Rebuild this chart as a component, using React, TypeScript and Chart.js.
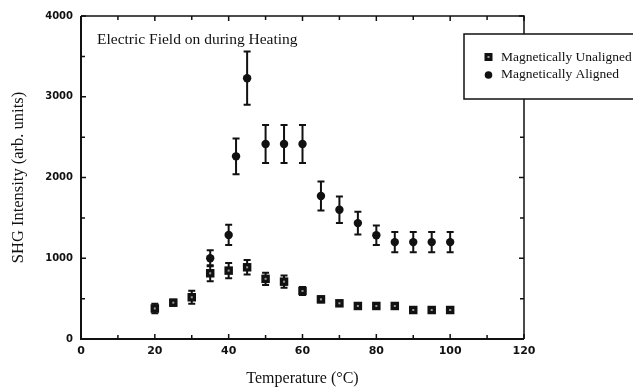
import { useEffect, useRef } from "react";
import { Chart, registerables } from "chart.js";
Chart.register(...registerables);

const unalignedTemps = [20, 25, 30, 35, 40, 45, 50, 55, 60, 65, 70, 75, 80, 85, 90, 95, 100];
const unalignedValues = [378, 450, 517, 814, 847, 888, 745, 710, 595, 491, 442, 409, 409, 409, 359, 359, 359];
const unalignedErrors = [60, 35, 80, 100, 95, 90, 75, 75, 50, 35, 25, 20, 20, 20, 15, 15, 25];
const alignedTemps = [35, 40, 42, 45, 50, 55, 60, 65, 70, 75, 80, 85, 90, 95, 100];
const alignedValues = [1000, 1289, 2262, 3230, 2416, 2416, 2416, 1770, 1600, 1435, 1285, 1200, 1200, 1200, 1200];
const alignedErrors = [100, 125, 222, 330, 235, 235, 235, 180, 165, 140, 120, 125, 125, 125, 125];

const seriesLabels = ["Magnetically Unaligned", "Magnetically Aligned"];
const annotationText = "Electric Field on during Heating";
const xTitle = "Temperature (\u00B0C)";
const yTitle = "SHG Intensity (arb. units)";
const xMin = 0, xMax = 120, xStep = 20, xMinorStep = 10;
const yMin = 0, yMax = 4000, yStep = 1000, yMinorStep = 500;

const errorSets = [unalignedErrors, alignedErrors];

const customPlugin = {
  id: "custom",
  beforeDatasetsDraw(chart: any) {
    const ctx = chart.ctx;
    const ys = chart.scales.y;
    ctx.save();
    ctx.strokeStyle = "#111";
    ctx.lineWidth = 2;
    chart.data.datasets.forEach((ds: any, di: number) => {
      const meta = chart.getDatasetMeta(di);
      meta.data.forEach((pt: any, i: number) => {
        const v = ds.data[i].y;
        const e = errorSets[di][i];
        const x = pt.x;
        const yt = ys.getPixelForValue(v + e);
        const yb = ys.getPixelForValue(v - e);
        ctx.beginPath();
        ctx.moveTo(x, yt);
        ctx.lineTo(x, yb);
        ctx.moveTo(x - 3.5, yt);
        ctx.lineTo(x + 3.5, yt);
        ctx.moveTo(x - 3.5, yb);
        ctx.lineTo(x + 3.5, yb);
        ctx.stroke();
      });
    });
    ctx.restore();
  },
  afterDatasetsDraw(chart: any) {
    const ctx = chart.ctx;
    const meta = chart.getDatasetMeta(0);
    ctx.save();
    ctx.fillStyle = "#999";
    meta.data.forEach((pt: any) => {
      ctx.fillRect(pt.x - 1, pt.y - 1, 2, 2);
    });
    ctx.restore();
  },
  afterDraw(chart: any) {
    const ctx = chart.ctx;
    const { left, right, top, bottom } = chart.chartArea;
    const xs = chart.scales.x;
    const ys = chart.scales.y;
    ctx.save();
    ctx.strokeStyle = "#111";
    ctx.lineWidth = 2;
    ctx.beginPath();
    ctx.moveTo(left, top);
    ctx.lineTo(left, bottom);
    ctx.lineTo(right, bottom);
    ctx.stroke();
    ctx.lineWidth = 1.5;
    ctx.beginPath();
    ctx.moveTo(left, top);
    ctx.lineTo(right, top);
    ctx.lineTo(right, bottom);
    ctx.stroke();
    ctx.lineWidth = 1.5;
    ctx.beginPath();
    for (let v = xMin; v <= xMax; v += xMinorStep) {
      const px = xs.getPixelForValue(v);
      const len = v % xStep === 0 ? 5 : 4;
      ctx.moveTo(px, bottom);
      ctx.lineTo(px, bottom - len);
      ctx.moveTo(px, top);
      ctx.lineTo(px, top + len);
    }
    for (let v = yMin; v <= yMax; v += yMinorStep) {
      const py = ys.getPixelForValue(v);
      const len = v % yStep === 0 ? 5 : 4;
      ctx.moveTo(left, py);
      ctx.lineTo(left + len, py);
      ctx.moveTo(right, py);
      ctx.lineTo(right - len, py);
    }
    ctx.stroke();
    ctx.fillStyle = "#111";
    ctx.font = "15.5px 'Liberation Serif'";
    ctx.textBaseline = "middle";
    ctx.textAlign = "left";
    ctx.fillText(annotationText, left + 16, top + 24);
    const bx = 464, by = 34, bw = 180, bh = 65;
    ctx.fillStyle = "#fff";
    ctx.fillRect(bx, by, bw, bh);
    ctx.lineWidth = 1.5;
    ctx.strokeRect(bx, by, bw, bh);
    ctx.fillStyle = "#111";
    ctx.fillRect(484.5, 53, 8, 8);
    ctx.fillStyle = "#999";
    ctx.fillRect(487.5, 56, 2, 2);
    ctx.fillStyle = "#111";
    ctx.beginPath();
    ctx.arc(488.5, 75, 3.8, 0, Math.PI * 2);
    ctx.fill();
    ctx.font = "13.5px 'Liberation Serif'";
    ctx.fillText(seriesLabels[0], 501, 57);
    ctx.fillText(seriesLabels[1], 501, 74);
    ctx.restore();
  },
};

export default function App() {
  const ref = useRef<HTMLCanvasElement>(null);
  useEffect(() => {
    document.body.style.margin = "0";
    const chart = new Chart(ref.current as HTMLCanvasElement, {
      type: "scatter",
      data: {
        datasets: [
          {
            label: seriesLabels[0],
            data: unalignedTemps.map((t, i) => ({ x: t, y: unalignedValues[i] })),
            pointStyle: "rect",
            pointRadius: 6,
            backgroundColor: "#111",
            borderColor: "#111",
            borderWidth: 0,
          },
          {
            label: seriesLabels[1],
            data: alignedTemps.map((t, i) => ({ x: t, y: alignedValues[i] })),
            pointStyle: "circle",
            pointRadius: 4.2,
            backgroundColor: "#111",
            borderColor: "#111",
            borderWidth: 0,
          },
        ],
      },
      options: {
        animation: false,
        responsive: false,
        maintainAspectRatio: false,
        layout: { padding: { top: 16, right: 109, left: 0, bottom: 0 } },
        plugins: { legend: { display: false }, tooltip: { enabled: false } },
        scales: {
          x: {
            type: "linear",
            min: xMin,
            max: xMax,
            afterFit: (s: any) => { s.height = 49; },
            ticks: {
              stepSize: xStep,
              color: "#111",
              padding: 6,
              font: { family: "'DejaVu Sans'", size: 11, weight: "bold" },
              callback: (v: any) => String(v),
            },
            grid: { display: false, drawTicks: false },
            border: { display: false },
            title: {
              display: true,
              text: xTitle,
              color: "#111",
              font: { family: "'Liberation Serif'", size: 16 },
              padding: { top: 8, bottom: 0 },
            },
          },
          y: {
            type: "linear",
            min: yMin,
            max: yMax,
            afterFit: (s: any) => { s.width = 81; },
            ticks: {
              stepSize: yStep,
              color: "#111",
              padding: 8,
              font: { family: "'DejaVu Sans'", size: 10, weight: "bold" },
              callback: (v: any) => String(v),
            },
            grid: { display: false, drawTicks: false },
            border: { display: false },
            title: {
              display: true,
              text: yTitle,
              color: "#111",
              font: { family: "'Liberation Serif'", size: 16.5 },
              padding: { top: 9, bottom: 0 },
            },
          },
        },
      },
      plugins: [customPlugin],
    } as any);
    return () => chart.destroy();
  }, []);
  return (
    <div style={{ position: "absolute", left: 0, top: 0, width: 633, height: 388, background: "#fff" }}>
      <canvas ref={ref} width={633} height={388} style={{ display: "block" }} />
    </div>
  );
}
